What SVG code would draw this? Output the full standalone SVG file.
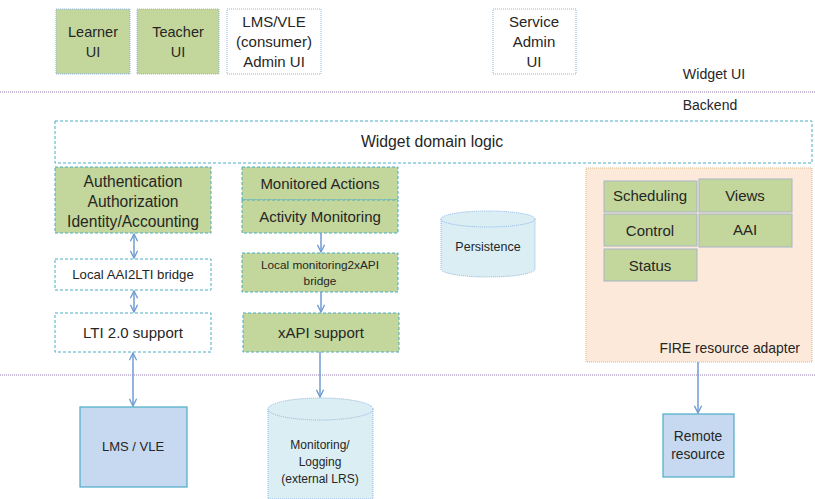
<svg xmlns="http://www.w3.org/2000/svg" width="815" height="499" viewBox="0 0 815 499">
  <defs>
    <style>
      text { font-family: "Liberation Sans", Arial, sans-serif; fill: #262626; text-anchor: middle; }
      .t15 { font-size: 15px; }
      .t14 { font-size: 14.5px; }
      .t13 { font-size: 13px; }
      .t12 { font-size: 12px; }
      .s13 { font-size: 13.2px; }
      .s12 { font-size: 12.5px; }
      .s11 { font-size: 11.5px; }
      .green { fill: #c3d69b; stroke: #4bacc6; stroke-width: 1; stroke-dasharray: 3 2; }
      .white { fill: #ffffff; stroke: #4bacc6; stroke-width: 1; stroke-dasharray: 3 2; }
      .ui { fill: #ffffff; stroke: #8eb4e3; stroke-width: 1; stroke-dasharray: 1 1; }
      .uig { fill: #c3d69b; stroke: #8eb4e3; stroke-width: 1; stroke-dasharray: 1 1; }
      .fire { fill: #fde9d9; stroke: #d6b98c; stroke-width: 1; stroke-dasharray: 1 1; }
      .inner { fill: #c3d69b; stroke: #a5b6c9; stroke-width: 1; }
      .ext { fill: #c6d9f1; stroke: #4bacc6; stroke-width: 1.2; }
      .cyl { fill: #dbeef4; stroke: #8eb4e3; stroke-width: 1; stroke-dasharray: 1 1; }
      .sep { stroke: #b7a9cc; stroke-width: 1.5; stroke-dasharray: 1 1; fill: none; }
      .conn { stroke: #6f9bd1; stroke-width: 1.5; fill: none; }
    </style>
    <marker id="arr" viewBox="0 0 10 10" refX="9" refY="5" markerWidth="9" markerHeight="9" orient="auto-start-reverse" markerUnits="userSpaceOnUse">
      <path d="M1,1 L9,5 L1,9" fill="none" stroke="#6f9bd1" stroke-width="1.5"/>
    </marker>
  </defs>

  <!-- layer separators -->
  <g id="layers">
    <line class="sep" x1="0" y1="92" x2="815" y2="92"/>
    <line class="sep" x1="0" y1="375" x2="815" y2="375"/>
    <text class="t14" x="714" y="79" style="font-size:14.2px">Widget UI</text>
    <text class="t14" x="710" y="110" style="font-size:14px">Backend</text>
  </g>

  <!-- user interfaces -->
  <g id="learner-ui">
    <rect class="uig" x="56" y="9" width="74" height="65"/>
    <text class="t14" x="93" y="37">Learner</text>
    <text class="t14" x="93" y="57">UI</text>
  </g>
  <g id="teacher-ui">
    <rect class="uig" x="137" y="9" width="82" height="65"/>
    <text class="t14" x="178" y="37">Teacher</text>
    <text class="t14" x="178" y="57">UI</text>
  </g>
  <g id="lms-admin-ui">
    <rect class="ui" x="227" y="9" width="94" height="65"/>
    <text class="t15" x="274" y="27">LMS/VLE</text>
    <text class="t15" x="274" y="47">(consumer)</text>
    <text class="t15" x="274" y="67">Admin UI</text>
  </g>
  <g id="service-admin-ui">
    <rect class="ui" x="493" y="9" width="83" height="65"/>
    <text class="t15" x="534" y="27">Service</text>
    <text class="t15" x="534" y="47">Admin</text>
    <text class="t15" x="534" y="67">UI</text>
  </g>

  <!-- backend -->
  <g id="domain-logic">
    <rect class="white" x="55" y="121" width="757" height="42"/>
    <text class="t15" x="432" y="147" style="font-size:15.8px">Widget domain logic</text>
  </g>
  <g id="aaa">
    <rect class="green" x="55" y="167" width="156" height="66"/>
    <text class="t15" x="133" y="187" style="font-size:15.6px">Authentication</text>
    <text class="t15" x="133" y="207" style="font-size:15.6px">Authorization</text>
    <text class="t15" x="133" y="227" style="font-size:15.6px">Identity/Accounting</text>
  </g>
  <g id="aai2lti">
    <rect class="white" x="55" y="259" width="156" height="31"/>
    <text class="s13" x="133" y="279">Local AAI2LTI bridge</text>
  </g>
  <g id="lti">
    <rect class="white" x="55" y="313" width="156" height="39"/>
    <text class="t15" x="133" y="338">LTI 2.0 support</text>
  </g>
  <g id="monitored-actions">
    <rect class="green" x="242" y="167" width="156" height="33"/>
    <text class="t15" x="320" y="189">Monitored  Actions</text>
  </g>
  <g id="activity-monitoring">
    <rect class="green" x="242" y="200" width="156" height="33"/>
    <text class="t15" x="320" y="222">Activity Monitoring</text>
  </g>
  <g id="monitoring2xapi">
    <rect class="green" x="242" y="253" width="156" height="39"/>
    <text class="s11" x="320" y="269" style="font-size:11.8px">Local monitoring2xAPI</text>
    <text class="s11" x="320" y="285" style="font-size:11.8px">bridge</text>
  </g>
  <g id="xapi">
    <rect class="green" x="243" y="313" width="156" height="39"/>
    <text class="t15" x="321" y="338">xAPI support</text>
  </g>
  <g id="persistence">
    <path class="cyl" d="M441,219 L441,269 A47,8 0 0 0 535,269 L535,219"/>
    <ellipse class="cyl" cx="488" cy="219" rx="47" ry="8"/>
    <text class="s12" x="488" y="251">Persistence</text>
  </g>
  <g id="fire-adapter">
    <rect class="fire" x="586" y="168" width="226" height="194"/>
    <text class="t14" x="800" y="353" style="text-anchor:end;font-size:13.9px">FIRE resource adapter</text>
    <rect class="inner" x="604" y="181" width="93" height="31"/>
    <text class="t15" x="650" y="201">Scheduling</text>
    <rect class="inner" x="699" y="179" width="93" height="33"/>
    <text class="t15" x="745" y="201">Views</text>
    <rect class="inner" x="604" y="214" width="93" height="32"/>
    <text class="t15" x="650" y="236">Control</text>
    <rect class="inner" x="699" y="214" width="93" height="33"/>
    <text class="t15" x="745" y="235">AAI</text>
    <rect class="inner" x="604" y="249" width="93" height="32"/>
    <text class="t15" x="650" y="271">Status</text>
  </g>

  <!-- external systems -->
  <g id="lms-vle">
    <rect class="ext" x="80" y="407" width="107" height="80"/>
    <text class="t13" x="133" y="451">LMS / VLE</text>
  </g>
  <g id="lrs">
    <path class="cyl" d="M268,409 L268,499 L373,499 L373,409"/>
    <ellipse class="cyl" cx="320.5" cy="409" rx="52.5" ry="11"/>
    <text class="t12" x="320" y="449">Monitoring/</text>
    <text class="t12" x="320" y="466">Logging</text>
    <text class="t12" x="320" y="483">(external LRS)</text>
  </g>
  <g id="remote-resource">
    <rect class="ext" x="663" y="414" width="71" height="63"/>
    <text class="t13" x="698" y="441" style="font-size:13.8px">Remote</text>
    <text class="t13" x="698" y="459" style="font-size:13.8px">resource</text>
  </g>

  <!-- connectors -->
  <g id="connectors">
    <line class="conn" x1="134" y1="234" x2="134" y2="258" marker-start="url(#arr)" marker-end="url(#arr)"/>
    <line class="conn" x1="134" y1="291" x2="134" y2="312" marker-start="url(#arr)" marker-end="url(#arr)"/>
    <line class="conn" x1="133" y1="353" x2="133" y2="406" marker-start="url(#arr)" marker-end="url(#arr)"/>
    <line class="conn" x1="321" y1="233" x2="321" y2="252" marker-end="url(#arr)"/>
    <line class="conn" x1="321" y1="292" x2="321" y2="312" marker-end="url(#arr)"/>
    <line class="conn" x1="320" y1="352" x2="320" y2="397" marker-end="url(#arr)"/>
    <line class="conn" x1="698" y1="362" x2="698" y2="413" marker-end="url(#arr)"/>
  </g>
</svg>
